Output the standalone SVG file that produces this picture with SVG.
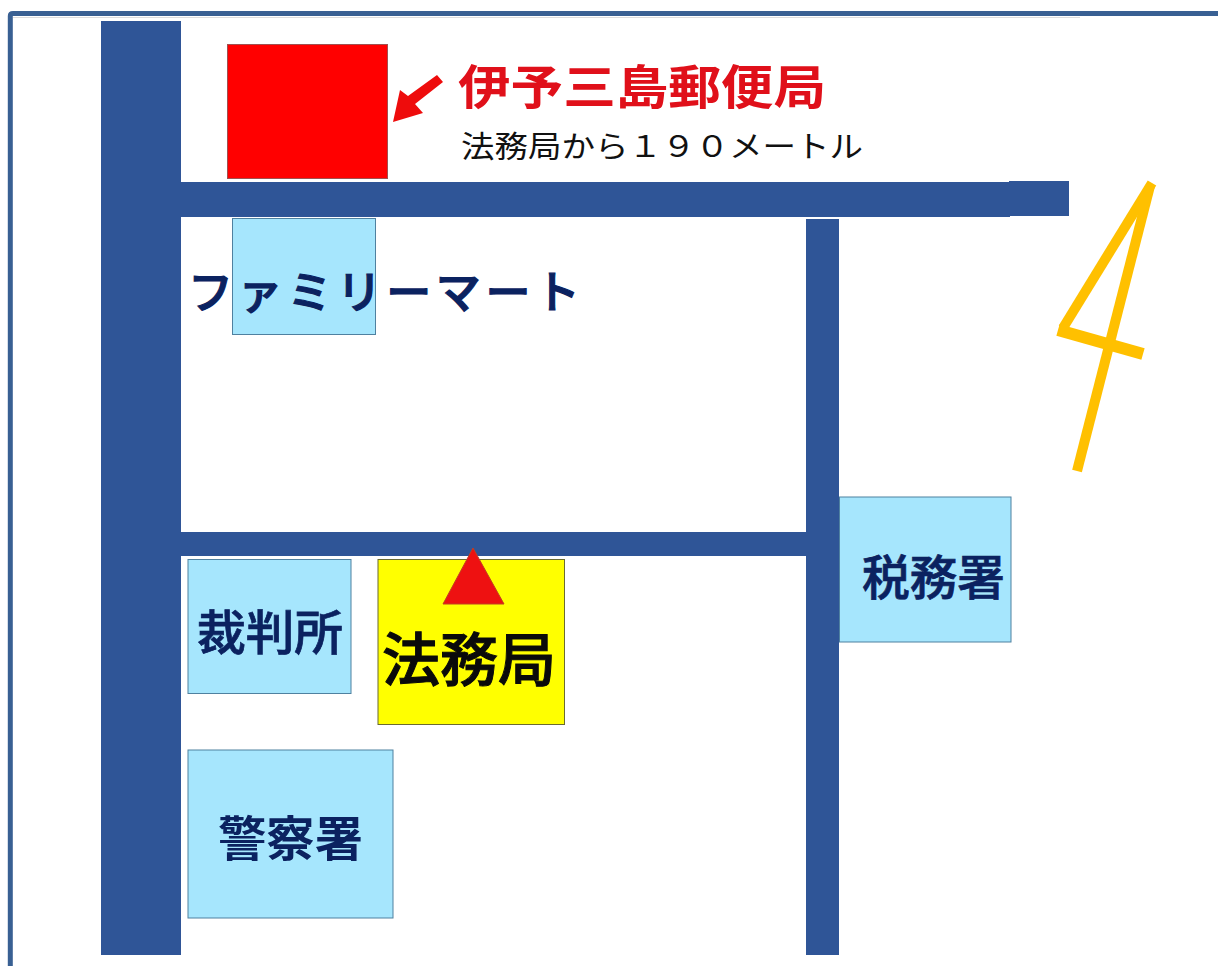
<svg xmlns="http://www.w3.org/2000/svg" width="1218" height="966" viewBox="0 0 1218 966">
<style>
text{font-family:"Noto Sans CJK JP","Noto Sans CJK SC",sans-serif;}
.road{fill:#2f5597;}
.bld{fill:#a6e6fd;stroke:#4f81a0;stroke-width:1;}
.navy{fill:#0b2260;font-weight:500;stroke:#0b2260;stroke-width:.7;}
.north{fill:none;stroke:#ffc000;}
</style>
<rect width="1218" height="966" fill="#fff"/>
<path d="M1218 13.400H13Q10.300 13.400 10.300 16V966" fill="none" stroke="#396093" stroke-width="5"/>
<path d="M13 17.500H1080" fill="none" stroke="#dcdcdc" stroke-width="1"/>
<g id="roads">
<rect class="road" x="101" y="21" width="80" height="934"/>
<rect class="road" x="180" y="182" width="830" height="35"/>
<rect class="road" x="1009" y="181" width="60" height="35"/>
<rect class="road" x="806" y="219" width="33" height="736"/>
<rect class="road" x="181" y="532" width="626" height="24"/>
</g>
<g id="post-office">
<rect x="227.500" y="44.500" width="160" height="134" fill="#ff0000" stroke="#a05050" stroke-width="1"/>
<path d="M393 122L423 113L415 104L443 82L437 75L408 96L400 90Z" fill="#ee0c0c"/>
<text x="458" y="104" font-size="47" font-weight="700" fill="#e0101a" textLength="368" lengthAdjust="spacingAndGlyphs">伊予三島郵便局</text>
<text x="461" y="157" font-size="30" fill="#111" textLength="402" lengthAdjust="spacingAndGlyphs">法務局から１９０メートル</text>
</g>
<g id="familymart">
<rect class="bld" x="232.500" y="218.500" width="143" height="116"/>
<text class="navy" style="stroke-width:1.200" x="188" y="309" font-size="45" textLength="392" lengthAdjust="spacing">ファミリーマート</text>
</g>
<g id="court">
<rect class="bld" x="188" y="559.500" width="163" height="134"/>
<text class="navy" x="197" y="650" font-size="48" textLength="146" lengthAdjust="spacingAndGlyphs">裁判所</text>
</g>
<g id="legal-affairs">
<rect x="378" y="559.500" width="186.500" height="165" fill="#ffff00" stroke="#6b6b30" stroke-width="1"/>
<text x="382" y="681" font-size="58" font-weight="500" fill="#0a0a0a" stroke="#0a0a0a" stroke-width="1" textLength="174" lengthAdjust="spacingAndGlyphs">法務局</text>
<path d="M473 548L504 604H443Z" fill="#ee1111" stroke="#c04020" stroke-width="1"/>
</g>
<g id="police">
<rect class="bld" x="188" y="750" width="205" height="168"/>
<text class="navy" style="font-weight:700;stroke-width:0" x="218" y="856" font-size="48" textLength="145" lengthAdjust="spacingAndGlyphs">警察署</text>
</g>
<g id="tax-office">
<rect class="bld" x="839.500" y="497" width="171.500" height="145"/>
<text class="navy" x="862" y="595" font-size="48" textLength="143" lengthAdjust="spacingAndGlyphs">税務署</text>
</g>
<g id="north">
<path class="north" stroke-width="10" d="M1152 183L1063 328"/>
<path class="north" stroke-width="12" d="M1058 330L1143 354"/>
<path class="north" stroke-width="10" d="M1150 186L1077 471"/>
</g>
</svg>
